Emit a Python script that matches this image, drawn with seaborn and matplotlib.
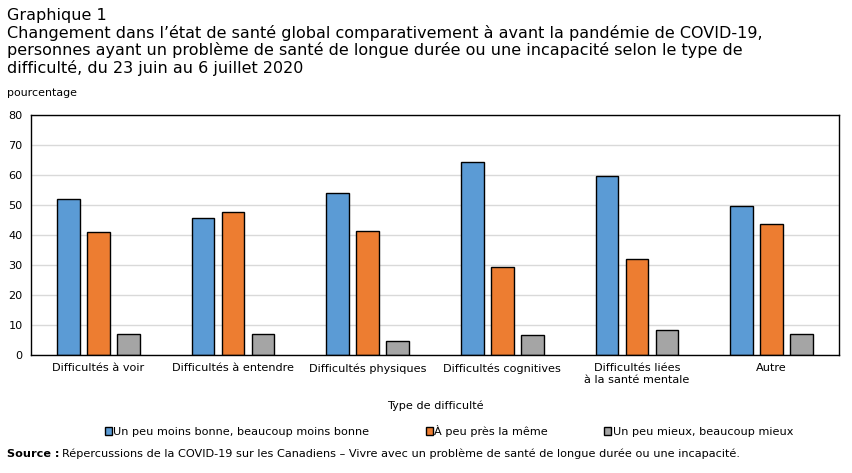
import matplotlib
matplotlib.use("Agg")
import matplotlib.pyplot as plt
import pandas as pd
import seaborn as sns

categories = ["Difficultés à voir", "Difficultés à entendre", "Difficultés physiques",
              "Difficultés cognitives", "Difficultés liées\nà la santé mentale", "Autre"]
series = ["Un peu moins bonne, beaucoup moins bonne", "À peu près la même",
          "Un peu mieux, beaucoup mieux"]
moins_bonne = [52.0, 45.7, 54.0, 64.4, 59.7, 49.7]
meme = [41.0, 47.7, 41.3, 29.3, 32.0, 43.7]
mieux = [7.0, 7.0, 4.8, 6.8, 8.4, 7.0]
colors = ["#5B9BD5", "#ED7D31", "#A5A5A5"]

title = ("Graphique 1\n"
         "Changement dans l’état de santé global comparativement à avant la pandémie de COVID-19,\n"
         "personnes ayant un problème de santé de longue durée ou une incapacité selon le type de\n"
         "difficulté, du 23 juin au 6 juillet 2020")
source_txt = ("Répercussions de la COVID-19 sur les Canadiens – Vivre avec un problème de santé "
              "de longue durée ou une incapacité.")

df = pd.DataFrame({
    "cat": categories * 3,
    "serie": [series[0]] * 6 + [series[1]] * 6 + [series[2]] * 6,
    "val": moins_bonne + meme + mieux,
})

sns.set_theme(style="white")
plt.rcParams["font.family"] = ["DejaVu Sans"]
plt.rcParams["text.color"] = "black"
plt.rcParams["axes.labelcolor"] = "black"

fs = 8.1

fig = plt.figure(figsize=(8.52, 4.73), dpi=100)
ax = fig.add_axes([31 / 852, 1 - 355 / 473, 808 / 852, 240 / 473])

sns.barplot(data=df, x="cat", y="val", hue="serie", hue_order=series, palette=colors,
            saturation=1, width=0.668, gap=0.24, edgecolor="black", linewidth=1,
            ax=ax, zorder=2)

ax.set_ylim(0, 80)
ax.set_yticks(range(0, 81, 10))
ax.yaxis.grid(True, color="#D9D9D9", linewidth=1, zorder=0)
ax.set_axisbelow(True)
for s in ax.spines.values():
    s.set_color("black")
    s.set_linewidth(1)
ax.tick_params(axis="both", length=0, labelsize=fs, colors="black")
ax.tick_params(axis="y", pad=6)
ax.tick_params(axis="x", pad=6)
ax.set_xlabel("Type de difficulté", fontsize=fs, labelpad=11)
ax.set_ylabel("")

handles, labels = ax.get_legend_handles_labels()
ax.legend_.remove()
fig.legend(handles, labels, loc="center", bbox_to_anchor=(449 / 852, 1 - 431 / 473), ncol=3,
           frameon=False, fontsize=fs, handlelength=0.6, handleheight=0.6,
           handletextpad=0.15, columnspacing=5.0, borderaxespad=0)

fig.text(7 / 852, 1 - 8 / 473, title, fontsize=11.5, va="top", ha="left", linespacing=1.12)
fig.text(7 / 852, 1 - 93 / 473, "pourcentage", fontsize=7.9, va="center", ha="left")

src = fig.text(7 / 852, 1 - 454 / 473, "Source :", fontsize=fs, fontweight="bold",
               va="center", ha="left")
fig.canvas.draw()
bb = src.get_window_extent().transformed(fig.transFigure.inverted())
fig.text(bb.x1 + 3 / 852, 1 - 454 / 473, source_txt, fontsize=fs, va="center", ha="left")

fig.savefig("out.png", dpi=100)
